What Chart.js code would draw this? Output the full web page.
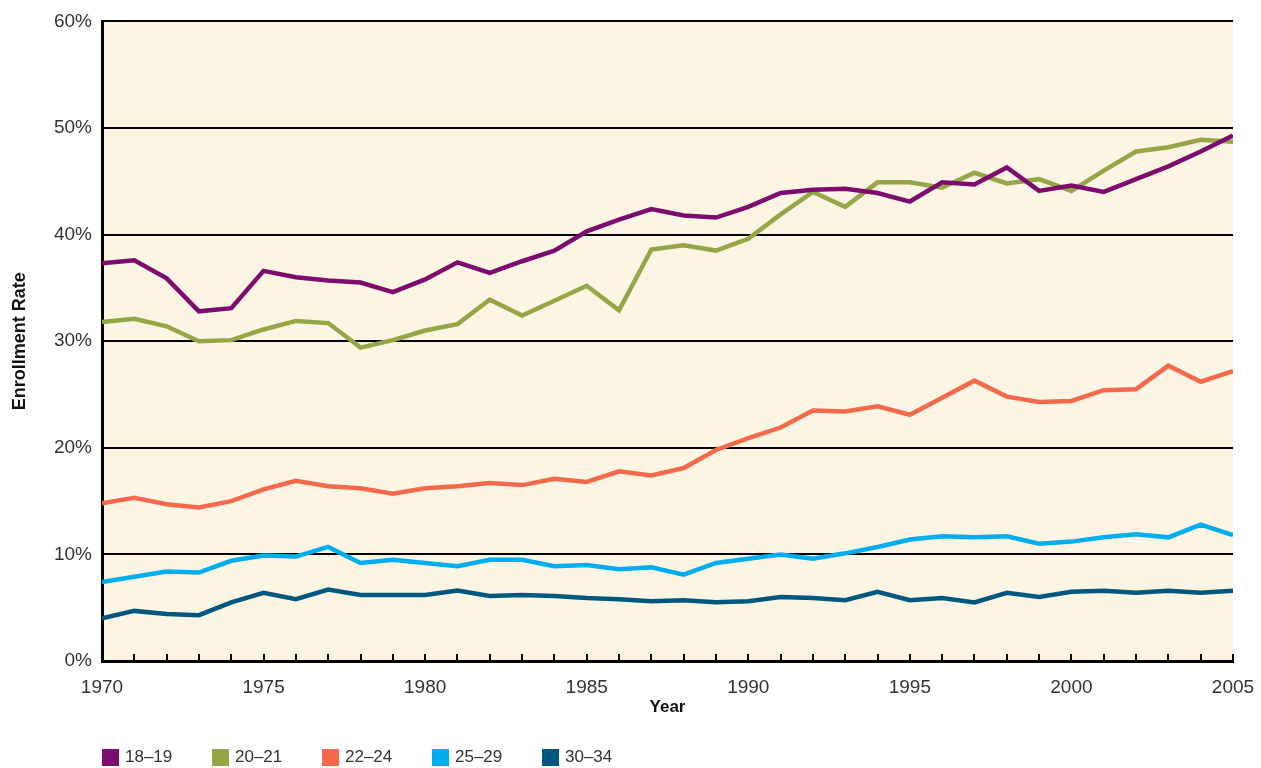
<!DOCTYPE html>
<html lang="en">
<head>
    <meta charset="UTF-8">
    <title>Enrollment Rate by Age Group, 1970-2005</title>
    <script src="https://cdn.jsdelivr.net/npm/chart.js"></script>
    <style>
        body {
            margin: 0;
            background: #ffffff;
            font-family: "Liberation Sans", Arial, sans-serif;
        }

        #wrap {
            position: relative;
            width: 1261px;
            height: 768px;
        }

        #legend {
            position: absolute;
            left: 102px;
            top: 747px;
            display: flex;
            font-size: 17px;
            color: #333;
        }

        #legend .item {
            display: flex;
            align-items: center;
            width: 110px;
        }

        #legend .box {
            width: 17px;
            height: 17px;
            margin-right: 6px;
        }
    </style>
</head>
<body>
    <div id="wrap">
        <canvas id="enrollChart" width="1261" height="768"></canvas>
        <div id="legend"></div>
    </div>

    <script>
        // data
        const years = [1970, 1971, 1972, 1973, 1974, 1975, 1976, 1977, 1978, 1979,
            1980, 1981, 1982, 1983, 1984, 1985, 1986, 1987, 1988, 1989,
            1990, 1991, 1992, 1993, 1994, 1995, 1996, 1997, 1998, 1999,
            2000, 2001, 2002, 2003, 2004, 2005];

        const age18to19 = [37.3, 37.6, 35.9, 32.8, 33.1, 36.6, 36.0, 35.7, 35.5, 34.6,
            35.8, 37.4, 36.4, 37.5, 38.5, 40.3, 41.4, 42.4, 41.8, 41.6,
            42.6, 43.9, 44.2, 44.3, 43.9, 43.1, 44.9, 44.7, 46.3, 44.1,
            44.6, 44.0, 45.2, 46.4, 47.8, 49.3];

        const age20to21 = [31.8, 32.1, 31.4, 30.0, 30.1, 31.1, 31.9, 31.7, 29.4, 30.1,
            31.0, 31.6, 33.9, 32.4, 33.8, 35.2, 32.9, 38.6, 39.0, 38.5,
            39.6, 41.9, 44.0, 42.6, 44.9, 44.9, 44.4, 45.8, 44.8, 45.2,
            44.1, 46.0, 47.8, 48.2, 48.9, 48.7];

        const age22to24 = [14.8, 15.3, 14.7, 14.4, 15.0, 16.1, 16.9, 16.4, 16.2, 15.7,
            16.2, 16.4, 16.7, 16.5, 17.1, 16.8, 17.8, 17.4, 18.1, 19.8,
            20.9, 21.9, 23.5, 23.4, 23.9, 23.1, 24.7, 26.3, 24.8, 24.3,
            24.4, 25.4, 25.5, 27.7, 26.2, 27.2];

        const age25to29 = [7.4, 7.9, 8.4, 8.3, 9.4, 9.9, 9.8, 10.7, 9.2, 9.5,
            9.2, 8.9, 9.5, 9.5, 8.9, 9.0, 8.6, 8.8, 8.1, 9.2,
            9.6, 10.0, 9.6, 10.1, 10.7, 11.4, 11.7, 11.6, 11.7, 11.0,
            11.2, 11.6, 11.9, 11.6, 12.8, 11.8];

        const age30to34 = [4.0, 4.7, 4.4, 4.3, 5.5, 6.4, 5.8, 6.7, 6.2, 6.2,
            6.2, 6.6, 6.1, 6.2, 6.1, 5.9, 5.8, 5.6, 5.7, 5.5,
            5.6, 6.0, 5.9, 5.7, 6.5, 5.7, 5.9, 5.5, 6.4, 6.0,
            6.5, 6.6, 6.4, 6.6, 6.4, 6.6];

        const seriesLabels = ['18\u201319', '20\u201321', '22\u201324', '25\u201329', '30\u201334'];
        const seriesColors = ['#7d0c6f', '#94a646', '#f26a4b', '#00adef', '#00587f'];
        const seriesData = [age18to19, age20to21, age22to24, age25to29, age30to34];

        const yTicks = [0, 10, 20, 30, 40, 50, 60];

        // cream fill behind the plot
        const plotBackground = {
            id: 'plotBackground',
            beforeDraw(chart) {
                const { ctx, chartArea: a } = chart;
                ctx.save();
                ctx.fillStyle = '#fdf5e4';
                ctx.fillRect(a.left, a.top, a.right - a.left, a.bottom - a.top);
                ctx.restore();
            }
        };

        // small year ticks pointing up into the plot
        const innerTicks = {
            id: 'innerTicks',
            afterDatasetsDraw(chart) {
                const { ctx, chartArea: a } = chart;
                const xs = chart.scales.x;
                ctx.save();
                ctx.strokeStyle = '#000';
                ctx.lineWidth = 2;
                ctx.beginPath();
                years.forEach(y => {
                    const px = Math.round(xs.getPixelForValue(y));
                    ctx.moveTo(px, a.bottom);
                    ctx.lineTo(px, a.bottom - 7);
                });
                ctx.stroke();
                ctx.restore();
            }
        };

        const ctx = document.getElementById('enrollChart').getContext('2d');
        new Chart(ctx, {
            type: 'line',
            data: {
                datasets: seriesData.map((vals, i) => ({
                    label: seriesLabels[i],
                    data: vals.map((v, j) => ({ x: years[j], y: v })),
                    borderColor: seriesColors[i],
                    backgroundColor: seriesColors[i],
                    borderWidth: 4.5,
                    pointRadius: 0,
                    tension: 0,
                    fill: false
                }))
            },
            options: {
                responsive: false,
                animation: false,
                layout: {
                    padding: { top: 20, right: 28, left: 0, bottom: 28 }
                },
                plugins: {
                    legend: { display: false },
                    tooltip: { enabled: false }
                },
                scales: {
                    x: {
                        type: 'linear',
                        min: 1970,
                        max: 2005,
                        afterFit: s => {
                            s.height = 79;
                            s.paddingLeft = 0;
                            s.paddingRight = 0;
                        },
                        afterBuildTicks: s => { s.ticks = years.map(v => ({ value: v })); },
                        ticks: {
                            autoSkip: false,
                            maxRotation: 0,
                            padding: 15,
                            color: '#333',
                            font: { family: '"Liberation Sans", Arial, sans-serif', size: 19 },
                            callback: v => (v % 5 === 0 ? String(v) : '')
                        },
                        grid: { drawOnChartArea: false, drawTicks: false },
                        border: { color: '#000', width: 3 },
                        title: {
                            display: true,
                            text: 'Year',
                            color: '#111',
                            font: { family: '"Liberation Sans", Arial, sans-serif', size: 17, weight: 'bold' },
                            padding: { top: 0, bottom: 22 }
                        }
                    },
                    y: {
                        min: 0,
                        max: 60,
                        afterFit: s => { s.width = 102; },
                        afterBuildTicks: s => { s.ticks = yTicks.map(v => ({ value: v })); },
                        ticks: {
                            padding: 10,
                            color: '#333',
                            font: { family: '"Liberation Sans", Arial, sans-serif', size: 19 },
                            callback: v => v + '%'
                        },
                        grid: { color: '#000', lineWidth: 2, drawTicks: false },
                        border: { color: '#000', width: 3 },
                        title: {
                            display: true,
                            text: 'Enrollment Rate',
                            color: '#111',
                            font: { family: '"Liberation Sans", Arial, sans-serif', size: 18, weight: 'bold' },
                            padding: { top: 9, bottom: 0 }
                        }
                    }
                }
            },
            plugins: [plotBackground, innerTicks]
        });

        // legend under the chart
        const legend = document.getElementById('legend');
        seriesLabels.forEach((name, i) => {
            const item = document.createElement('div');
            item.className = 'item';
            item.innerHTML = '<span class="box" style="background:' + seriesColors[i] + '"></span>' + name;
            legend.appendChild(item);
        });
    </script>
</body>
</html>
